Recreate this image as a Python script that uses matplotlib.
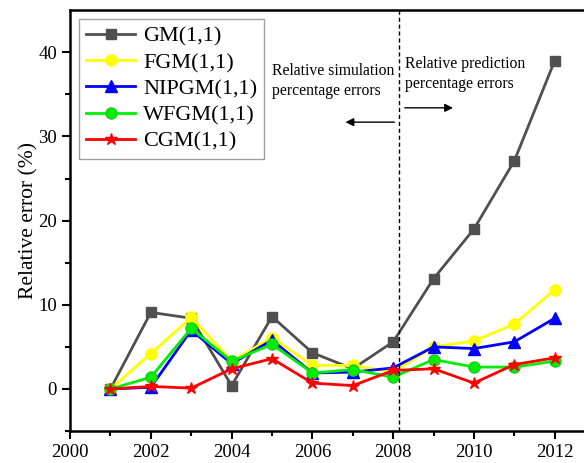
import matplotlib
matplotlib.use('Agg')
import matplotlib.pyplot as plt

years = [2001, 2002, 2003, 2004, 2005, 2006, 2007, 2008, 2009, 2010, 2011, 2012]
gm = [0.0, 9.1, 8.4, 0.4, 8.6, 4.3, 2.4, 5.6, 13.1, 19.0, 27.1, 39.0]
fgm = [0.0, 4.2, 8.5, 3.3, 6.1, 2.8, 2.8, 2.0, 5.0, 5.7, 7.7, 11.8]
nipgm = [0.0, 0.2, 7.0, 3.0, 5.8, 1.9, 2.0, 2.5, 5.0, 4.8, 5.6, 8.4]
wfgm = [0.0, 1.4, 7.2, 3.3, 5.3, 1.9, 2.3, 1.4, 3.5, 2.6, 2.6, 3.3]
cgm = [0.0, 0.3, 0.1, 2.4, 3.6, 0.7, 0.4, 2.2, 2.4, 0.7, 2.9, 3.7]

plt.rcParams['font.family'] = ['Liberation Serif', 'DejaVu Serif']

fig = plt.figure(figsize=(5.84, 4.63), dpi=100)
ax = fig.add_axes([0.12, 0.069, 0.899, 0.909])

ax.plot(years, gm, color='#505050', marker='s', markersize=7, linewidth=2, label='GM(1,1)')
ax.plot(years, fgm, color='#ffff00', marker='o', markersize=8, linewidth=2, label='FGM(1,1)')
ax.plot(years, nipgm, color='#0000ff', marker='^', markersize=8, linewidth=2, label='NIPGM(1,1)')
ax.plot(years, wfgm, color='#00ee00', marker='o', markersize=8, linewidth=2,
        markeredgecolor='#22cc22', label='WFGM(1,1)')
ax.plot(years, cgm, color='#ff0000', marker='*', markersize=9, linewidth=2, label='CGM(1,1)')

ax.axvline(2008.14, color='black', linestyle=(0, (3, 2)), linewidth=1)

ax.text(2005.0, 36.6, 'Relative simulation\npercentage errors', fontsize=11.3, va='center', ha='left',
        linespacing=1.35)
ax.text(2008.29, 37.4, 'Relative prediction\npercentage errors', fontsize=11.3, va='center', ha='left',
        linespacing=1.35)
ax.annotate('', xy=(2006.75, 31.7), xytext=(2008.1, 31.7),
            arrowprops=dict(arrowstyle='-|>', color='black', lw=1, mutation_scale=12))
ax.annotate('', xy=(2009.55, 33.4), xytext=(2008.22, 33.4),
            arrowprops=dict(arrowstyle='-|>', color='black', lw=1, mutation_scale=12))

ax.set_xlim(2000, 2013)
ax.set_ylim(-5, 45)
ax.set_xticks([2000, 2002, 2004, 2006, 2008, 2010, 2012])
ax.set_xticks(range(2001, 2013, 2), minor=True)
ax.set_yticks([0, 10, 20, 30, 40])
ax.set_yticks([-5, 5, 15, 25, 35], minor=True)
ax.tick_params(axis='both', which='major', direction='out', length=6, width=1.5, labelsize=13.5)
ax.tick_params(axis='both', which='minor', direction='out', length=3.5, width=1.5)
ax.set_ylabel('Relative error (%)', fontsize=15.5, labelpad=0)
for s in ax.spines.values():
    s.set_linewidth(1.8)

leg = ax.legend(loc='upper left', fontsize=16, frameon=True, fancybox=False, edgecolor='#888888',
                handlelength=2.2, borderpad=0.33, labelspacing=0.25, handletextpad=0.35,
                borderaxespad=0.4, bbox_to_anchor=(0.0, 1.0))
leg.get_frame().set_linewidth(1)

fig.savefig('out.png', dpi=100)
